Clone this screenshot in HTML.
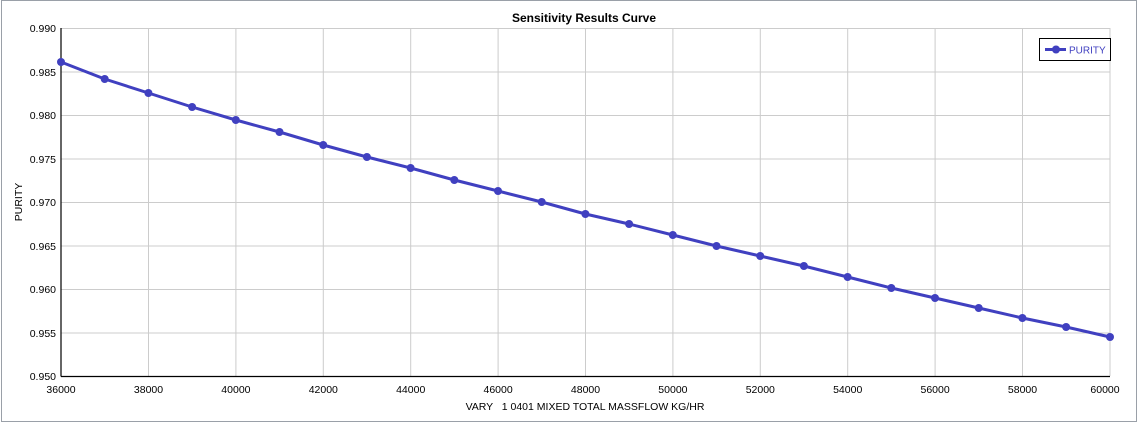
<!DOCTYPE html>
<html><head><meta charset="utf-8"><style>
html,body{margin:0;padding:0;background:#fff;}
svg{display:block;font-family:"Liberation Sans",sans-serif;}
</style></head><body>
<svg width="1139" height="423" viewBox="0 0 1139 423">
<rect x="1.5" y="0.5" width="1135" height="421" fill="#fff" stroke="#9aa0a8"/>
<text x="584" y="22" font-size="12" font-weight="bold" text-anchor="middle" fill="#000">Sensitivity Results Curve</text>
<g stroke="#cccccc" stroke-width="1">
<line x1="61" y1="28.5" x2="1110" y2="28.5"/><line x1="61" y1="72" x2="1110" y2="72"/><line x1="61" y1="115.5" x2="1110" y2="115.5"/><line x1="61" y1="159" x2="1110" y2="159"/><line x1="61" y1="202.5" x2="1110" y2="202.5"/><line x1="61" y1="246" x2="1110" y2="246"/><line x1="61" y1="289.5" x2="1110" y2="289.5"/><line x1="61" y1="333" x2="1110" y2="333"/>
<line x1="148.5" y1="28" x2="148.5" y2="376"/><line x1="235.9" y1="28" x2="235.9" y2="376"/><line x1="323.3" y1="28" x2="323.3" y2="376"/><line x1="410.7" y1="28" x2="410.7" y2="376"/><line x1="498.1" y1="28" x2="498.1" y2="376"/><line x1="585.5" y1="28" x2="585.5" y2="376"/><line x1="672.9" y1="28" x2="672.9" y2="376"/><line x1="760.3" y1="28" x2="760.3" y2="376"/><line x1="847.7" y1="28" x2="847.7" y2="376"/><line x1="935.1" y1="28" x2="935.1" y2="376"/><line x1="1022.5" y1="28" x2="1022.5" y2="376"/><line x1="1110" y1="28" x2="1110" y2="376"/>
</g>
<g stroke="#000" stroke-width="1.2">
<line x1="61" y1="28" x2="61" y2="376.5"/><line x1="61" y1="376.5" x2="1110" y2="376.5"/>
</g>
<g font-size="10.5" fill="#000" text-anchor="end">
<text x="56" y="32">0.990</text><text x="56" y="76">0.985</text><text x="56" y="119">0.980</text><text x="56" y="163">0.975</text><text x="56" y="206">0.970</text><text x="56" y="250">0.965</text><text x="56" y="293">0.960</text><text x="56" y="337">0.955</text><text x="56" y="380">0.950</text>
</g>
<g font-size="10.5" fill="#000" text-anchor="middle">
<text x="61" y="393">36000</text><text x="148.5" y="393">38000</text><text x="235.9" y="393">40000</text><text x="323.3" y="393">42000</text><text x="410.7" y="393">44000</text><text x="498.1" y="393">46000</text><text x="585.5" y="393">48000</text><text x="672.9" y="393">50000</text><text x="760.3" y="393">52000</text><text x="847.7" y="393">54000</text><text x="935.1" y="393">56000</text><text x="1022.5" y="393">58000</text><text x="1105" y="393">60000</text>
<text x="585" y="410" style="white-space:pre" xml:space="preserve">VARY   1 0401 MIXED TOTAL MASSFLOW KG/HR</text>
</g>
<text transform="translate(22,202) rotate(-90)" font-size="10.5" text-anchor="middle">PURITY</text>
<polyline fill="none" stroke="#4040c0" stroke-width="3" stroke-linejoin="round" points="61,62 104.7,79 148.4,93 192.1,107 235.8,120 279.5,132 323.2,145 366.9,157 410.6,168 454.3,180 498,191 541.7,202 585.4,214 629.1,224 672.8,235 716.5,246 760.2,256 803.9,266 847.6,277 891.3,288 935,298 978.7,308 1022.4,318 1066.1,327 1110,337"/>
<g fill="#4040c0">
<circle cx="61" cy="62" r="4"/><circle cx="104.7" cy="79" r="4"/><circle cx="148.4" cy="93" r="4"/><circle cx="192.1" cy="107" r="4"/><circle cx="235.8" cy="120" r="4"/><circle cx="279.5" cy="132" r="4"/><circle cx="323.2" cy="145" r="4"/><circle cx="366.9" cy="157" r="4"/><circle cx="410.6" cy="168" r="4"/><circle cx="454.3" cy="180" r="4"/><circle cx="498" cy="191" r="4"/><circle cx="541.7" cy="202" r="4"/><circle cx="585.4" cy="214" r="4"/><circle cx="629.1" cy="224" r="4"/><circle cx="672.8" cy="235" r="4"/><circle cx="716.5" cy="246" r="4"/><circle cx="760.2" cy="256" r="4"/><circle cx="803.9" cy="266" r="4"/><circle cx="847.6" cy="277" r="4"/><circle cx="891.3" cy="288" r="4"/><circle cx="935" cy="298" r="4"/><circle cx="978.7" cy="308" r="4"/><circle cx="1022.4" cy="318" r="4"/><circle cx="1066.1" cy="327" r="4"/><circle cx="1110" cy="337" r="4"/>
</g>
<rect x="1039.5" y="38.5" width="71" height="22" fill="#fff" stroke="#000"/>
<line x1="1045" y1="49.5" x2="1066" y2="49.5" stroke="#4040c0" stroke-width="3"/>
<circle cx="1056" cy="49.5" r="4" fill="#4040c0"/>
<text x="1069" y="53.5" font-size="10" fill="#4040c0">PURITY</text>
</svg>
</body></html>
